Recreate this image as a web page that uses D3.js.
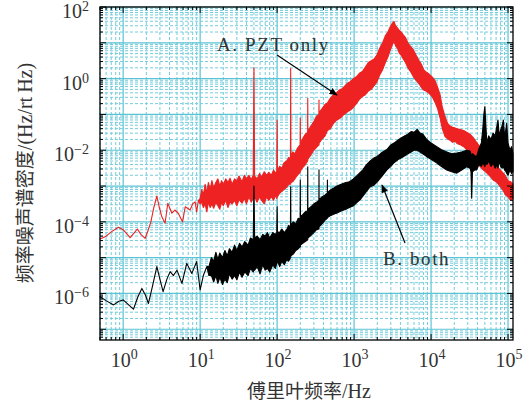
<!DOCTYPE html>
<html lang="zh">
<head>
<meta charset="UTF-8" />
<title>频率噪声谱密度</title>
<script src="https://d3js.org/d3.v7.min.js"></script>
<style>
  body { margin: 0; background: #fff; }
</style>
</head>
<body>
<div id="chart"></div>
<script>
// [frequency Hz, log10 low edge, log10 high edge] of each noisy trace
// red: "A. PZT only"
const redPts = [
  [0.5, -4.48, -4.48], [0.6, -4.40, -4.40], [0.7, -4.28, -4.28], [0.87, -4.15, -4.15], [1.0, -4.22, -4.22], [1.23, -4.44, -4.44],
  [1.4, -4.30, -4.30], [1.53, -4.20, -4.20], [1.7, -4.35, -4.35], [1.93, -4.46, -4.46], [2.1, -4.25, -4.25], [2.29, -4.00, -4.00],
  [2.5, -3.60, -3.60], [2.74, -3.28, -3.28], [2.95, -3.60, -3.60], [3.18, -3.86, -3.86], [3.5, -4.04, -4.04], [3.8, -3.48, -3.48],
  [4.3, -3.76, -3.76], [4.7, -3.67, -3.67], [5.2, -3.76, -3.76], [5.9, -4.00, -4.00], [6.4, -3.58, -3.58], [7.4, -3.67, -3.67],
  [8.0, -3.50, -3.50], [8.6, -3.44, -3.44], [9.0, -3.72, -3.72], [9.5, -3.40, -3.40],
  [10, -3.50, -3.35], [10.5, -3.45, -3.10], [11, -3.60, -3.25], [11.6, -3.50, -2.95], [12.2, -3.72, -3.20], [12.8, -3.45, -2.90],
  [13.5, -3.60, -3.10], [14.2, -3.50, -2.85], [15, -3.62, -3.05], [16, -3.45, -2.90], [17, -3.55, -2.80], [18, -3.65, -3.00],
  [19, -3.45, -2.85], [20, -3.55, -2.95], [21.5, -3.40, -2.80], [23, -3.60, -2.90], [24.5, -3.45, -2.78], [26, -3.50, -2.95],
  [28, -3.40, -2.80], [30, -3.55, -2.85], [32, -3.38, -2.72], [35, -3.48, -2.88], [37.5, -3.35, -2.70], [40, -3.50, -2.80],
  [43, -3.30, -2.70], [46, -3.45, -2.82], [49, -3.35, -2.70], [50, -3.35, 0.30], [51, -3.30, -2.72], [55, -3.45, -2.80],
  [59, -3.30, -2.65], [63, -3.40, -2.75], [68, -3.50, -2.60], [73, -3.30, -2.70], [78, -3.40, -2.62], [84, -3.30, -2.70],
  [90, -3.40, -2.55], [96, -3.25, -2.65], [99, -3.35, -2.58], [100, -3.30, -1.16], [101, -3.30, -2.55], [108, -3.20, -2.45],
  [115, -3.15, -2.50], [123, -3.10, -2.35], [133, -3.03, -2.30], [142, -2.95, -2.20], [149, -2.95, -2.25], [150, -2.95, 0.29],
  [151, -2.90, -2.15], [160, -2.88, -2.05], [170, -2.80, -2.10], [183, -2.70, -1.95], [199, -2.62, -1.85], [200, -2.60, -1.10],
  [201, -2.58, -1.80], [218, -2.47, -1.65], [233, -2.40, -1.55], [249, -2.30, -1.50], [250, -2.30, -0.55], [251, -2.25, -1.45],
  [270, -2.15, -1.35], [300, -2.00, -1.20], [325, -1.92, -1.05], [349, -1.85, -1.00], [350, -1.85, -0.60], [351, -1.80, -0.95],
  [380, -1.70, -0.85], [420, -1.60, -0.72], [450, -1.45, -0.68], [490, -1.40, -0.55], [540, -1.25, -0.45], [590, -1.16, -0.40],
  [640, -1.12, -0.32], [700, -1.05, -0.28], [760, -0.98, -0.20], [830, -0.92, -0.12], [900, -0.88, -0.08], [980, -0.80, 0.00],
  [1070, -0.70, 0.05], [1170, -0.58, 0.15], [1280, -0.50, 0.20], [1400, -0.45, 0.32], [1530, -0.35, 0.45], [1670, -0.30, 0.50],
  [1820, -0.20, 0.55], [1970, -0.10, 0.65], [2150, 0.10, 0.85], [2350, 0.25, 1.00], [2550, 0.45, 1.20], [2750, 0.60, 1.30],
  [2950, 0.80, 1.45], [3150, 0.95, 1.55], [3300, 1.05, 1.60], [3450, 0.92, 1.48], [3650, 0.85, 1.42], [3850, 0.72, 1.35],
  [4100, 0.65, 1.30], [4350, 0.55, 1.22], [4650, 0.45, 1.15], [5000, 0.30, 1.00], [5400, 0.20, 0.90], [5900, 0.05, 0.80],
  [6400, -0.05, 0.65], [7000, -0.15, 0.50], [7500, -0.25, 0.40], [8000, -0.32, 0.25], [8700, -0.35, 0.18], [9500, -0.42, 0.12],
  [10300, -0.50, 0.05], [11200, -0.65, -0.05], [12200, -0.85, -0.25], [13100, -1.10, -0.45], [14000, -1.40, -0.80], [15200, -1.62, -1.06],
  [16400, -1.68, -1.25], [17600, -1.72, -1.32], [19000, -1.78, -1.36], [20500, -1.75, -1.38], [22000, -1.82, -1.40], [24000, -1.85, -1.42],
  [26500, -1.90, -1.45], [29000, -1.98, -1.50], [32000, -2.05, -1.55], [35300, -2.18, -1.65], [39000, -2.30, -1.78], [43000, -2.45, -1.90],
  [47600, -2.55, -2.00], [52000, -2.62, -2.10], [58000, -2.72, -2.25], [64000, -2.83, -2.35], [70000, -2.88, -2.42], [77000, -2.98, -2.52],
  [85000, -3.10, -2.62], [93000, -3.25, -2.72], [100000, -3.30, -2.85], [108000, -3.40, -2.88], [116000, -3.35, -2.95]
];

// black: "B. both"
const blackPts = [
  [0.5, -6.09, -6.09], [0.6, -6.20, -6.20], [0.75, -6.32, -6.32], [0.88, -6.22, -6.22], [1.0, -6.18, -6.18], [1.15, -6.30, -6.30],
  [1.36, -6.44, -6.44], [1.55, -6.10, -6.10], [1.75, -5.86, -5.86], [1.95, -6.05, -6.05], [2.13, -6.28, -6.28], [2.4, -5.80, -5.80],
  [2.74, -5.25, -5.25], [3.0, -5.60, -5.60], [3.3, -5.95, -5.95], [3.7, -5.60, -5.60], [4.07, -5.39, -5.39], [4.5, -5.50, -5.50],
  [5.0, -5.35, -5.35], [5.8, -5.72, -5.72], [6.7, -5.16, -5.16], [7.8, -5.44, -5.44], [9.0, -5.11, -5.11], [10, -5.90, -5.90],
  [11, -5.50, -5.50], [12.2, -5.25, -5.25],
  [13, -5.50, -5.25], [14, -5.50, -5.00], [15, -5.68, -5.10], [16, -5.50, -4.85], [17, -5.72, -5.05], [18, -5.55, -4.87],
  [19.5, -5.75, -5.00], [21, -5.60, -4.80], [22.5, -5.70, -4.95], [24, -5.45, -4.75], [26, -5.60, -4.85], [28, -5.50, -4.65],
  [30, -5.62, -4.80], [32.5, -5.40, -4.60], [35, -5.55, -4.70], [38, -5.40, -4.55], [42, -5.50, -4.65], [45, -5.30, -4.45],
  [49, -5.40, -4.50], [50, -5.35, -3.00], [51, -5.35, -4.45], [55, -5.25, -4.40], [60, -5.45, -4.50], [65, -5.20, -4.35],
  [70, -5.35, -4.40], [75, -5.30, -4.30], [80, -5.40, -4.45], [88, -5.20, -4.30], [95, -5.30, -4.35], [99, -5.15, -4.30],
  [100, -5.15, -3.58], [101, -5.10, -4.28], [108, -5.25, -4.30], [115, -5.10, -4.20], [124, -5.20, -4.30], [133, -5.05, -4.22],
  [141, -5.10, -4.10], [149, -5.00, -4.15], [150, -5.00, -3.02], [151, -4.95, -4.10], [162, -4.90, -4.00], [175, -4.80, -4.05],
  [188, -4.75, -3.90], [199, -4.70, -3.92], [200, -4.70, -2.83], [201, -4.65, -3.85], [215, -4.60, -3.80], [232, -4.55, -3.72],
  [249, -4.50, -3.70], [250, -4.50, -2.46], [251, -4.45, -3.65], [275, -4.38, -3.58], [300, -4.30, -3.50], [325, -4.22, -3.45],
  [349, -4.20, -3.40], [350, -4.20, -2.55], [351, -4.14, -3.38], [385, -4.05, -3.30], [420, -3.95, -3.25], [449, -3.90, -3.20],
  [450, -3.90, -2.83], [451, -3.88, -3.18], [500, -3.82, -3.10], [550, -3.78, -3.05], [600, -3.75, -3.00], [680, -3.70, -2.95],
  [780, -3.65, -2.90], [870, -3.60, -2.88], [980, -3.55, -2.80], [1100, -3.45, -2.70], [1200, -3.38, -2.62], [1300, -3.28, -2.55],
  [1450, -3.15, -2.40], [1620, -3.02, -2.30], [1800, -2.98, -2.22], [1970, -2.90, -2.18], [2250, -2.75, -2.08], [2670, -2.55, -1.98],
  [3000, -2.45, -1.85], [3300, -2.35, -1.80], [3800, -2.25, -1.70], [4350, -2.18, -1.62], [5000, -2.10, -1.55], [5500, -2.05, -1.48],
  [6000, -2.00, -1.50], [6600, -2.00, -1.42], [7200, -2.05, -1.52], [7800, -2.10, -1.55], [8800, -2.18, -1.70], [10000, -2.25, -1.80],
  [11900, -2.36, -1.90], [13500, -2.45, -1.98], [16000, -2.55, -2.05], [18500, -2.60, -2.10], [21600, -2.64, -2.08], [25000, -2.55, -2.05],
  [29000, -2.46, -2.00], [32000, -2.50, -2.02], [33000, -2.60, -2.10], [33700, -3.34, -2.20], [34500, -2.60, -2.10], [37000, -2.55, -2.15],
  [39000, -2.55, -2.18], [42000, -2.40, -1.95], [45000, -2.45, -1.80], [47000, -2.35, -1.40], [48500, -2.40, -1.00], [50000, -2.46, -0.78],
  [51500, -2.30, -1.30], [53000, -2.40, -1.80], [56000, -2.30, -1.60], [60000, -2.45, -1.70], [64000, -2.36, -1.52], [68000, -2.50, -1.60],
  [72000, -2.40, -1.30], [74000, -2.50, -1.16], [77000, -2.30, -1.60], [80000, -2.45, -1.45], [84000, -2.50, -1.30], [87000, -2.46, -1.16],
  [90000, -2.55, -1.60], [94000, -2.60, -1.40], [96000, -2.64, -1.25], [100000, -2.70, -1.80], [106000, -2.55, -2.00], [111000, -2.65, -1.90],
  [116000, -2.60, -2.10]
];

const xMajor = [1, 10, 100, 1000, 10000, 100000];
const yMajor = [1e2, 1e0, 1e-2, 1e-4, 1e-6];
const xLabelExp = ["0", "1", "2", "3", "4", "5"];
const yLabelExp = ["2", "0", "\u22122", "\u22124", "\u22126"];

const W = 530, H = 403;
const pLeft = 100, pRight = 513, pTop = 7, pBottom = 340;

const svg = d3.select("#chart").append("svg")
  .attr("width", W).attr("height", H)
  .style("font-family", "'Liberation Serif', 'DejaVu Serif', serif");

const x = d3.scaleLog().domain([0.5, 1.16e5]).range([pLeft, pRight]);
const y = d3.scaleLog().domain([Math.pow(10, -7.3), 100]).range([pBottom, pTop]);

// tick positions 1..9 x 10^n inside the domain
function logTicks(scale) {
  const [a, b] = scale.domain();
  const out = [];
  for (let e = Math.floor(Math.log10(a)); e <= Math.ceil(Math.log10(b)); e++) {
    for (let k = 1; k <= 9; k++) {
      const v = k * Math.pow(10, e);
      if (v >= a * 0.999 && v <= b * 1.001) out.push({ v: v, major: k === 1 });
    }
  }
  return out;
}
const xt = logTicks(x), yt = logTicks(y);

// grid
const grid = svg.append("g");
grid.selectAll(".gx").data(xt).join("line")
  .attr("x1", d => x(d.v)).attr("x2", d => x(d.v))
  .attr("y1", pTop).attr("y2", pBottom)
  .attr("stroke", d => d.major ? "#5cc3d4" : "#74cddc")
  .attr("stroke-width", d => d.major ? 1.2 : 1)
  .attr("stroke-dasharray", d => d.major ? null : "3,2");
grid.selectAll(".gy").data(yt).join("line")
  .attr("y1", d => y(d.v)).attr("y2", d => y(d.v))
  .attr("x1", pLeft).attr("x2", pRight)
  .attr("stroke", d => d.major ? "#5cc3d4" : "#74cddc")
  .attr("stroke-width", d => d.major ? 1.2 : 1)
  .attr("stroke-dasharray", d => d.major ? null : "3,2");

// data as filled noise bands
const area = d3.area()
  .x(d => x(d[0]))
  .y0(d => y(Math.pow(10, d[1])))
  .y1(d => y(Math.pow(10, d[2])));
const plot = svg.append("g");
plot.append("path").datum(redPts)
  .attr("d", area).attr("fill", "#ee2222").attr("stroke", "#ee2222")
  .attr("stroke-width", 1.1).attr("stroke-linejoin", "round");
plot.append("path").datum(blackPts)
  .attr("d", area).attr("fill", "#000").attr("stroke", "#000")
  .attr("stroke-width", 1.1).attr("stroke-linejoin", "round");

// ticks on all four sides, pointing in
const tk = svg.append("g").attr("stroke", "#000");
xt.forEach(d => {
  const L = d.major ? 6 : 3;
  tk.append("line").attr("x1", x(d.v)).attr("x2", x(d.v)).attr("y1", pBottom).attr("y2", pBottom - L);
  tk.append("line").attr("x1", x(d.v)).attr("x2", x(d.v)).attr("y1", pTop).attr("y2", pTop + L);
});
yt.forEach(d => {
  const L = d.major ? 6 : 3;
  tk.append("line").attr("y1", y(d.v)).attr("y2", y(d.v)).attr("x1", pLeft).attr("x2", pLeft + L);
  tk.append("line").attr("y1", y(d.v)).attr("y2", y(d.v)).attr("x1", pRight).attr("x2", pRight - L);
});
svg.append("rect").attr("x", pLeft).attr("y", pTop)
  .attr("width", pRight - pLeft).attr("height", pBottom - pTop)
  .attr("fill", "none").attr("stroke", "#000").attr("stroke-width", 1.3);

// tick labels
xMajor.forEach((v, i) => {
  const t = svg.append("text").attr("x", x(v) + 1).attr("y", 367)
    .attr("text-anchor", "middle").attr("font-size", 20).attr("fill", "#333");
  t.append("tspan").text("10");
  t.append("tspan").attr("dy", -8).attr("font-size", 14).text(xLabelExp[i]);
});
yMajor.forEach((v, i) => {
  const t = svg.append("text").attr("x", 89).attr("y", y(v) + 11)
    .attr("text-anchor", "end").attr("font-size", 20).attr("fill", "#333");
  t.append("tspan").text("10");
  t.append("tspan").attr("dy", -7).attr("font-size", 14).text(yLabelExp[i]);
});

// axis titles
const xTitle = svg.append("text").attr("x", 309).attr("y", 398)
  .attr("text-anchor", "middle").attr("font-size", 20).attr("fill", "#333");
xTitle.append("tspan").attr("font-family", "'Noto Sans CJK SC'").attr("font-size", 19).text("傅里叶频率");
xTitle.append("tspan").text("/Hz");

const yTitle = svg.append("text").attr("transform", "translate(32,173) rotate(-90)")
  .attr("text-anchor", "middle").attr("font-size", 20).attr("fill", "#333");
yTitle.append("tspan").attr("font-family", "'Noto Sans CJK SC'").attr("font-size", 19).text("频率噪声谱密度");
yTitle.append("tspan").text("/(Hz/rt\u2009Hz)");

// annotations
svg.append("defs").append("marker").attr("id", "ah")
  .attr("viewBox", "0 0 10 10").attr("refX", 9).attr("refY", 5)
  .attr("markerWidth", 7).attr("markerHeight", 7).attr("orient", "auto")
  .append("path").attr("d", "M0,1 L10,5 L0,9 Z").attr("fill", "#000");

svg.append("text").attr("x", 217).attr("y", 51).attr("font-size", 19)
  .attr("letter-spacing", 1.6).attr("fill", "#333").text("A. PZT only");
svg.append("line").attr("x1", 277).attr("y1", 55).attr("x2", 337).attr("y2", 95)
  .attr("stroke", "#000").attr("stroke-width", 1.2).attr("marker-end", "url(#ah)");

svg.append("text").attr("x", 383).attr("y", 265).attr("font-size", 19)
  .attr("letter-spacing", 1.6).attr("fill", "#333").text("B. both");
svg.append("line").attr("x1", 405).attr("y1", 243).attr("x2", 382).attr("y2", 185)
  .attr("stroke", "#000").attr("stroke-width", 1.2).attr("marker-end", "url(#ah)");
</script>
</body>
</html>
